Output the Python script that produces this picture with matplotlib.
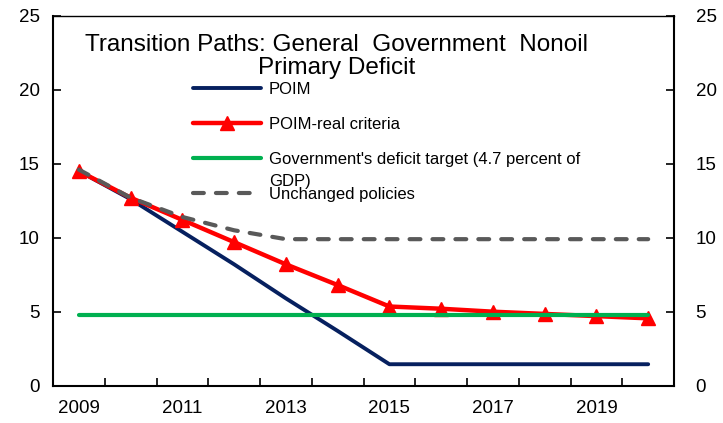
import numpy as np
import matplotlib.pyplot as plt
from matplotlib.transforms import ScaledTranslation

# years on a category axis (Excel style)
years = ["2009", "2010", "2011", "2012", "2013", "2014", "2015",
         "2016", "2017", "2018", "2019", "2020"]

poim = [14.5, 12.6, 10.4, 8.2, 5.9, 3.7, 1.45, 1.45, 1.45, 1.45, 1.45, 1.45]
poim_real = [14.5, 12.7, 11.2, 9.7, 8.2, 6.8, 5.35, 5.2, 5.0, 4.85, 4.7, 4.55]
target = [4.75] * 12
unchanged = [14.6, 12.7, 11.4, 10.5, 9.9, 9.9, 9.9, 9.9, 9.9, 9.9, 9.9, 9.9]

labels = ["POIM", "POIM-real criteria",
          "Government's deficit target (4.7 percent of",
          "Unchanged policies"]
label_wrap = "GDP)"

plt.rcParams['font.family'] = ['Liberation Sans', 'DejaVu Sans']

fig = plt.figure(figsize=(7.23, 4.23), dpi=100)
ax = fig.add_axes([0.0733, 0.0882, 0.859, 0.8747])

x = np.arange(len(years))
ax.plot(x, poim, color='#06205f', lw=2.8, solid_capstyle='round', label=labels[0])
ax.plot(x, poim_real, color='#ff0000', lw=3.2, marker='^', ms=10.5,
        solid_capstyle='round', label=labels[1])
ax.plot(x, target, color='#00b050', lw=3, solid_capstyle='round', label=labels[2])
ax.plot(x, unchanged, color='#595959', lw=3, ls=(0, (2.6, 2.9)),
        dash_capstyle='round', label=labels[3])

ax.set_xlim(-0.5, len(years) - 0.5)
ax.set_ylim(0, 25)
ax.set_yticks(np.arange(0, 26, 5))

# tick marks between categories, labels every other year
ax.set_xticks(np.arange(-0.5, len(years), 1.0))
ax.set_xticklabels([])
ax.set_xticks(x[::2], minor=True)
ax.set_xticklabels(years[::2], minor=True)
ax.tick_params(axis='x', which='major', direction='in', length=6, width=1.2)
ax.tick_params(axis='x', which='minor', length=0, pad=10, labelsize=13.5)
ax.tick_params(axis='y', direction='in', length=6, width=1.2, labelsize=13.5,
               left=True, right=True, labelleft=True, labelright=True, pad=9.5)
# right labels sit a bit further from the spine
shift = ScaledTranslation(6 / 72, 0, fig.dpi_scale_trans)
for t in ax.yaxis.get_major_ticks():
    t.label2.set_transform(t.label2.get_transform() + shift)

for s in ['left', 'right', 'bottom']:
    ax.spines[s].set_linewidth(1.5)
ax.spines['top'].set_linewidth(1.0)

ax.text(0.4566, 0.951, "Transition Paths: General  Government  Nonoil\nPrimary Deficit",
        transform=ax.transAxes, ha='center', va='top', fontsize=17.5,
        linespacing=1.08)

leg = ax.legend(loc='upper left', bbox_to_anchor=(0.225, 0.82), frameon=False,
                fontsize=12, handlelength=4.1, handletextpad=0.48,
                labelspacing=1.2, borderpad=0, borderaxespad=0)
ax.annotate(label_wrap, xy=(0, 0), xycoords=leg.get_texts()[2],
            xytext=(0, -4.5), textcoords='offset points', va='top', ha='left',
            fontsize=12, zorder=10)

fig.savefig('out.png', dpi=100)
